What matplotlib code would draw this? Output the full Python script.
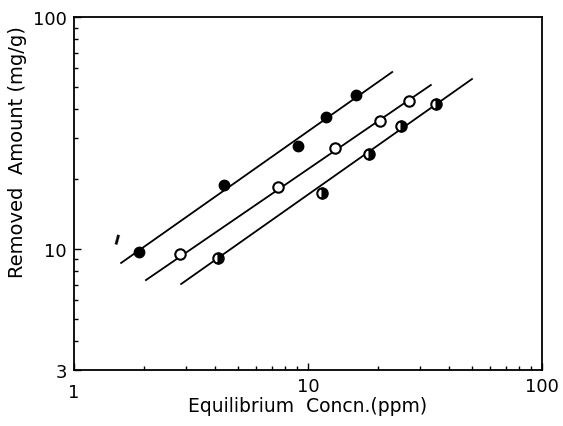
import numpy as np
import matplotlib.pyplot as plt
from matplotlib.ticker import FixedLocator, LogLocator, NullFormatter

# filled circles
x_filled = [1.90, 4.38, 9.06, 11.9, 16.0]
y_filled = [9.69, 18.8, 27.8, 37.1, 46.1]
line_filled_x = [1.59, 22.9]
line_filled_y = [8.69, 57.9]

# open circles
x_open = [2.84, 7.45, 13.0, 20.3, 27.0]
y_open = [9.50, 18.5, 27.2, 35.6, 43.4]
line_open_x = [2.03, 33.5]
line_open_y = [7.33, 50.9]

# half-filled circles
x_half = [4.12, 11.5, 18.2, 25.0, 35.2]
y_half = [9.13, 17.4, 25.6, 33.8, 42.2]
line_half_x = [2.87, 50.2]
line_half_y = [7.05, 54.0]

x_ticks = [1, 10, 100]
y_ticks = [3, 10, 100]

fig = plt.figure(figsize=(5.63, 4.27), dpi=100)
ax = fig.add_axes([0.1314, 0.1311, 0.8313, 0.8267])
ax.set_xscale('log')
ax.set_yscale('log')
ax.set_xlim(1, 100)
ax.set_ylim(3, 100)

lw = 1.3
ax.plot(line_filled_x, line_filled_y, color='black', lw=lw)
ax.plot(line_open_x, line_open_y, color='black', lw=lw)
ax.plot(line_half_x, line_half_y, color='black', lw=lw)

ms = 7.5
ax.plot(x_filled, y_filled, 'o', ms=ms, color='black', zorder=3)
ax.plot(x_open, y_open, 'o', ms=ms, mfc='white', mec='black', mew=1.5, zorder=3)
ax.plot(x_half, y_half, 'o', ms=ms, fillstyle='right', mfc='black',
        markerfacecoloralt='white', mec='black', mew=1.5, zorder=3)

ax.text(1.52, 11.0, 'ı', fontsize=12, fontweight='bold', rotation=-15,
        ha='center', va='center')

ax.xaxis.set_major_locator(FixedLocator(x_ticks))
ax.yaxis.set_major_locator(FixedLocator(y_ticks))
ax.xaxis.set_minor_locator(LogLocator(base=10, subs=np.arange(2, 10)))
ax.yaxis.set_minor_locator(LogLocator(base=10, subs=np.arange(2, 10)))
ax.xaxis.set_minor_formatter(NullFormatter())
ax.yaxis.set_minor_formatter(NullFormatter())
ax.set_xticklabels(['', '10', '100'])
ax.set_yticklabels(['3', '10', '100'])
ax.tick_params(which='both', direction='in', top=False, right=False,
               labelsize=13, width=1)
ax.tick_params(which='major', length=5, pad=5)
ax.tick_params(which='minor', length=3)
ax.text(1, 2.65, '1', fontsize=13, ha='center', va='top')

for s in ax.spines.values():
    s.set_linewidth(1.3)

ax.set_xlabel('Equilibrium  Concn.(ppm)', fontsize=13.5, labelpad=1)
ax.set_ylabel('Removed  Amount (mg/g)', fontsize=14)
ax.yaxis.set_label_coords(-0.10, 0.62)

fig.savefig('out.png', dpi=100)
